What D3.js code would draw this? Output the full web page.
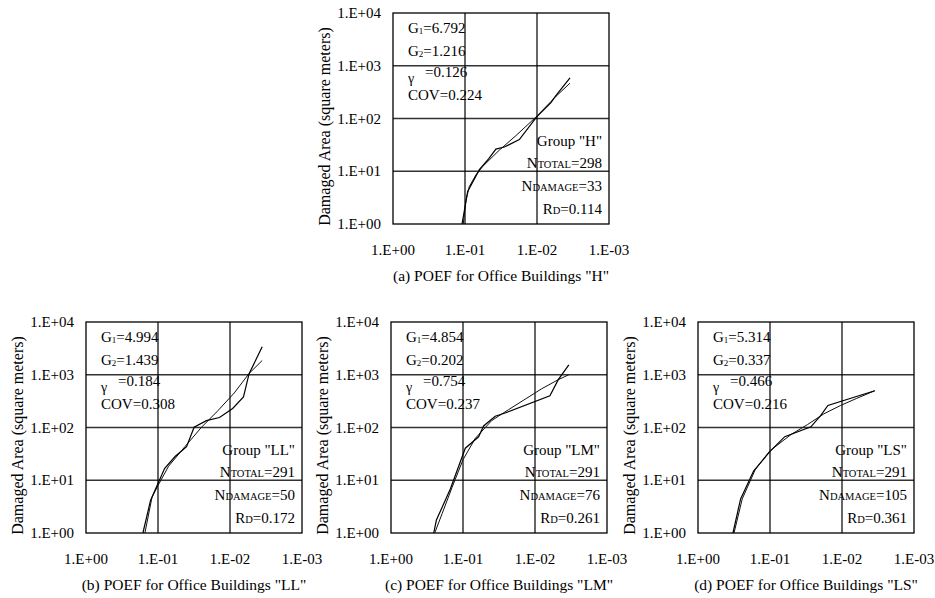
<!DOCTYPE html>
<meta charset="utf-8">
<head>
<script src="https://cdn.jsdelivr.net/npm/d3@7"></script>
<style>
body { margin: 0; background: #fff; }
text { font-family: "Liberation Serif", "Times New Roman", serif; fill: #000; }
</style>
</head>
<body>
<script>

// building groups and fitted parameters
var groups = ["H", "LL", "LM", "LS"];
var letters = ["a", "b", "c", "d"];
var g1 = ["6.792", "4.994", "4.854", "5.314"];
var g2 = ["1.216", "1.439", "0.202", "0.337"];
var gammas = ["0.126", "0.184", "0.754", "0.466"];
var covs = ["0.224", "0.308", "0.237", "0.216"];
var nTotal = [298, 291, 291, 291];
var nDamage = [33, 50, 76, 105];
var rD = ["0.114", "0.172", "0.261", "0.361"];

// observed curves: [probability of exceedance, damaged area]
var obsH  = [[0.110,1.0],[0.0918,4.13],[0.0632,10.7],[0.0470,17.1],[0.0372,26.3],[0.0284,28.8],[0.0176,39.8],[0.0101,107],[0.0064,200],[0.00557,263],[0.00348,589]];
var obsLL = [[0.162,1.0],[0.127,4.14],[0.0811,16.7],[0.0579,28.2],[0.0401,43.3],[0.0315,101],[0.0213,135],[0.0140,155],[0.00918,229],[0.00650,380],[0.00543,1047],[0.00357,3388]];
var obsLM = [[0.255,1.0],[0.234,1.76],[0.150,6.81],[0.0929,40.5],[0.0607,66.7],[0.0518,107],[0.0357,164],[0.0260,188],[0.00621,398],[0.00475,807],[0.00339,1535]];
var obsLS = [[0.327,1.0],[0.256,4.43],[0.169,14.9],[0.100,35.2],[0.0624,67.0],[0.0270,103],[0.0197,170],[0.0157,261],[0.00351,497]];

// fitted curves
var fitH  = [[0.1057,1.0],[0.0968,2.86],[0.0871,5.13],[0.0703,8.57],[0.0569,12.3],[0.0334,25.1],[0.0196,47.4],[0.0103,107],[0.00545,263],[0.00348,468]];
var fitLL = [[0.152,1.0],[0.121,4.79],[0.100,7.94],[0.0714,18.4],[0.0423,43.3],[0.0249,101],[0.0148,207],[0.00873,451],[0.00543,1059],[0.00357,1862]];
var fitLM = [[0.247,1.0],[0.195,2.33],[0.142,7.31],[0.100,24.5],[0.0676,62.1],[0.0398,136],[0.0234,217],[0.0137,344],[0.00809,542],[0.00475,807],[0.00339,1000]];
var fitLS = [[0.316,1.0],[0.243,4.43],[0.160,16.0],[0.100,36.2],[0.0507,74.1],[0.0300,114],[0.0178,182],[0.0105,261],[0.00624,357],[0.00351,497]];

var observed = [obsH, obsLL, obsLM, obsLS];
var fitted = [fitH, fitLL, fitLM, fitLS];

// axis ticks
var xTicks = [1, 0.1, 0.01, 0.001];
var xTickLabels = ["1.E+00", "1.E-01", "1.E-02", "1.E-03"];
var yTicks = [1, 10, 100, 1000, 10000];
var yTickLabels = ["1.E+00", "1.E+01", "1.E+02", "1.E+03", "1.E+04"];

var w = 216, h = 211;
var origins = [[393, 13], [86, 322], [391, 322], [698, 322]];

var svg = d3.select("body").append("svg")
  .attr("width", 935)
  .attr("height", 598);

var x = d3.scaleLog().domain([1, 0.001]).range([0, w]);
var y = d3.scaleLog().domain([1, 10000]).range([h, 0]);

var line = d3.line()
  .x(function(d){ return x(d[0]); })
  .y(function(d){ return y(d[1]); });

groups.forEach(function(grp, i){
  var g = svg.append("g")
    .attr("transform", "translate(" + origins[i][0] + "," + origins[i][1] + ")");

  // grid
  g.selectAll(".hg").data(yTicks.slice(1, 4)).enter().append("line")
    .attr("x1", 0).attr("x2", w)
    .attr("y1", function(d){ return y(d); }).attr("y2", function(d){ return y(d); })
    .attr("stroke", "#333").attr("stroke-width", 1.5);
  g.selectAll(".vg").data(xTicks.slice(1, 3)).enter().append("line")
    .attr("y1", 0).attr("y2", h)
    .attr("x1", function(d){ return x(d); }).attr("x2", function(d){ return x(d); })
    .attr("stroke", "#000").attr("stroke-width", 1.2);

  g.append("rect")
    .attr("width", w).attr("height", h)
    .attr("fill", "none").attr("stroke", "#000").attr("stroke-width", 1.3);

  // tick labels
  g.selectAll(".yl").data(yTicks).enter().append("text")
    .attr("x", -12)
    .attr("y", function(d){ return y(d) + 5; })
    .attr("text-anchor", "end")
    .attr("font-size", 15)
    .text(function(d, k){ return yTickLabels[k]; });
  g.selectAll(".xl").data(xTicks).enter().append("text")
    .attr("x", function(d){ return x(d); })
    .attr("y", h + 31)
    .attr("text-anchor", "middle")
    .attr("font-size", 15)
    .text(function(d, k){ return xTickLabels[k]; });

  // axis title
  g.append("text")
    .attr("transform", "translate(-63," + (h / 2 + 8) + ") rotate(-90)")
    .attr("text-anchor", "middle")
    .attr("font-size", 16)
    .text("Damaged Area (square meters)");

  // caption
  g.append("text")
    .attr("x", w / 2).attr("y", h + 57)
    .attr("text-anchor", "middle")
    .attr("font-size", 15.5)
    .text("(" + letters[i] + ") POEF for Office Buildings \"" + grp + "\"");

  // curves
  g.append("path").datum(fitted[i])
    .attr("d", line).attr("fill", "none")
    .attr("stroke", "#111").attr("stroke-width", 1);
  g.append("path").datum(observed[i])
    .attr("d", line).attr("fill", "none")
    .attr("stroke", "#000").attr("stroke-width", 1.2);

  // parameters, upper left
  var t1 = g.append("text").attr("x", 15).attr("y", 20).attr("font-size", 15);
  t1.append("tspan").text("G");
  t1.append("tspan").attr("font-size", 9).attr("dy", 1).text("1");
  t1.append("tspan").attr("dy", -1).text("=" + g1[i]);
  var t2 = g.append("text").attr("x", 15).attr("y", 43).attr("font-size", 15);
  t2.append("tspan").text("G");
  t2.append("tspan").attr("font-size", 9).attr("dy", 1).text("2");
  t2.append("tspan").attr("dy", -1).text("=" + g2[i]);
  g.append("text").attr("x", 15).attr("y", 70)
    .attr("font-family", "DejaVu Sans").attr("font-size", 14).text("γ");
  g.append("text").attr("x", 32).attr("y", 64).attr("font-size", 15).text("=" + gammas[i]);
  g.append("text").attr("x", 15).attr("y", 87).attr("font-size", 15).text("COV=" + covs[i]);

  // group stats, lower right
  g.append("text").attr("x", w - 7).attr("y", h - 78)
    .attr("text-anchor", "end").attr("font-size", 15)
    .text("Group \"" + grp + "\"");
  var t3 = g.append("text").attr("x", w - 7).attr("y", h - 56)
    .attr("text-anchor", "end").attr("font-size", 15);
  t3.append("tspan").text("N");
  t3.append("tspan").attr("font-size", 10.5).text("TOTAL");
  t3.append("tspan").text("=" + nTotal[i]);
  var t4 = g.append("text").attr("x", w - 7).attr("y", h - 33)
    .attr("text-anchor", "end").attr("font-size", 15);
  t4.append("tspan").text("N");
  t4.append("tspan").attr("font-size", 10.5).text("DAMAGE");
  t4.append("tspan").text("=" + nDamage[i]);
  var t5 = g.append("text").attr("x", w - 7).attr("y", h - 10)
    .attr("text-anchor", "end").attr("font-size", 15);
  t5.append("tspan").text("R");
  t5.append("tspan").attr("font-size", 10.5).text("D");
  t5.append("tspan").text("=" + rD[i]);
});

</script>
</body>
